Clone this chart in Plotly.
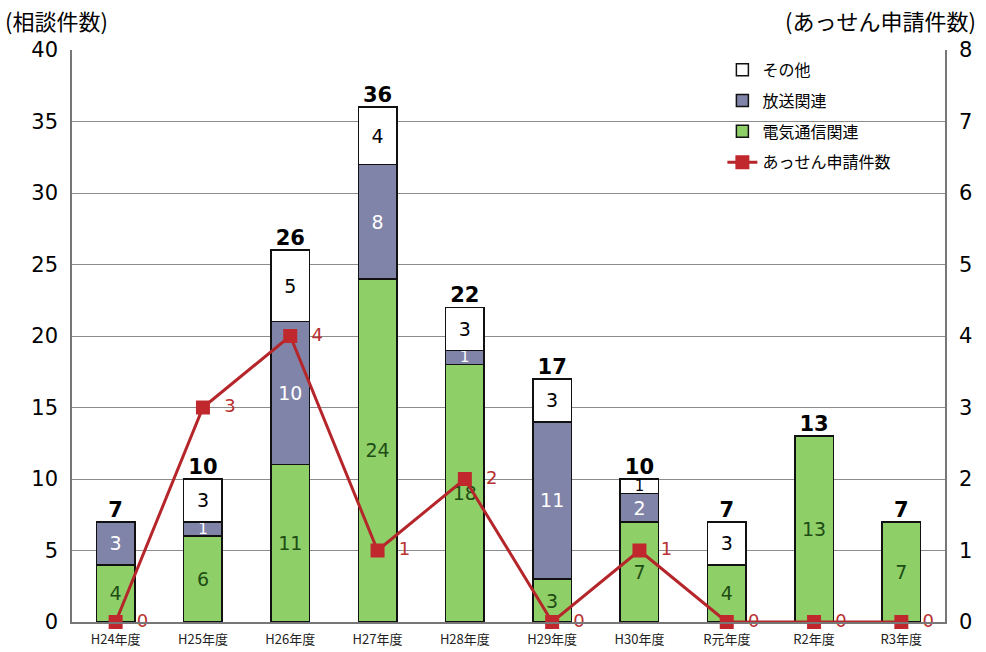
import plotly.graph_objects as go

categories = ["H24年度", "H25年度", "H26年度", "H27年度", "H28年度",
              "H29年度", "H30年度", "R元年度", "R2年度", "R3年度"]
telecom = [4, 6, 11, 24, 18, 3, 7, 4, 13, 7]
broadcast = [3, 1, 10, 8, 1, 11, 2, 0, 0, 0]
other = [0, 3, 5, 4, 3, 3, 1, 3, 0, 0]
totals = [7, 10, 26, 36, 22, 17, 10, 7, 13, 7]
mediation = [0, 3, 4, 1, 2, 0, 1, 0, 0, 0]

FONT = "Noto Sans CJK JP, Liberation Sans, sans-serif"
NUM = "DejaVu Sans, sans-serif"

def lab(vals):
    return [str(v) if v else "" for v in vals]

def sizes(vals):
    return [19 if v >= 2 else 15 for v in vals]

fig = go.Figure()
fig.add_trace(go.Bar(x=categories, y=telecom, name="電気通信関連", legendgroup="c",
                     marker=dict(color="#8FCF68", line=dict(color="#111111", width=1.5)),
                     text=lab(telecom), textposition="inside", insidetextanchor="middle",
                     textangle=0, cliponaxis=False, constraintext="none",
                     textfont=dict(color="#1E4D14", size=sizes(telecom), family=NUM), legendrank=3))
fig.add_trace(go.Bar(x=categories, y=broadcast, name="放送関連", legendgroup="b",
                     marker=dict(color="#8084A8", line=dict(color="#111111", width=1.5)),
                     text=lab(broadcast), textposition="inside", insidetextanchor="middle",
                     textangle=0, cliponaxis=False, constraintext="none",
                     textfont=dict(color="white", size=sizes(broadcast), family=NUM), legendrank=2))
fig.add_trace(go.Bar(x=categories, y=other, name="その他", legendgroup="a",
                     marker=dict(color="white", line=dict(color="#111111", width=1.5)),
                     text=lab(other), textposition="inside", insidetextanchor="middle",
                     textangle=0, cliponaxis=False, constraintext="none",
                     textfont=dict(color="black", size=sizes(other), family=NUM), legendrank=1))
fig.add_trace(go.Scatter(x=categories, y=totals, mode="text", text=[str(t) for t in totals],
                         textposition="top center", showlegend=False, hoverinfo="skip",
                         cliponaxis=False,
                         textfont=dict(color="black", size=21, family=NUM, weight="bold")))
fig.add_trace(go.Scatter(x=categories, y=mediation, name="あっせん申請件数", yaxis="y2",
                         legendgroup="d", cliponaxis=False,
                         mode="lines+markers+text", text=[str(v) for v in mediation],
                         texttemplate="  %{text}",
                         textposition="middle right",
                         textfont=dict(color="#B8302F", size=18, family=NUM),
                         line=dict(color="#B5262B", width=3),
                         marker=dict(symbol="square", size=14, color="#C0282D"),
                         legendrank=4))

fig.update_layout(
    width=986, height=652,
    barmode="stack", bargap=0.56,
    paper_bgcolor="white", plot_bgcolor="white",
    margin=dict(l=72, r=41, t=50, b=30, autoexpand=False),
    font=dict(family=FONT, color="black"),
    showlegend=True,
    legend=dict(x=0.745, y=0.995, xanchor="left", yanchor="top", traceorder="grouped",
                bgcolor="rgba(0,0,0,0)", font=dict(size=16, family=FONT),
                tracegroupgap=7, itemwidth=30),
    xaxis=dict(range=[-0.5, len(categories) - 0.5], showline=True, linecolor="#777777",
               linewidth=1.5, ticks="", automargin=False, ticklabelstandoff=5,
               tickfont=dict(size=13, family=FONT, color="#222222")),
    yaxis=dict(range=[0, 40], dtick=5, showgrid=True, gridcolor="#8C8C8C", gridwidth=1.2,
               showline=True, linecolor="#777777", linewidth=1.5, zeroline=False, automargin=False,
               tickfont=dict(size=21, family=NUM), ticklabelstandoff=8),
    yaxis2=dict(range=[0, 8], dtick=1, overlaying="y", side="right", showgrid=False,
                showline=True, linecolor="#777777", linewidth=1.5, zeroline=False, automargin=False,
                tickfont=dict(size=21, family=NUM), ticklabelstandoff=8),
    annotations=[
        dict(text="(相談件数)", xref="paper", yref="paper", x=-0.079, y=1.0524,
             xanchor="left", yanchor="middle", showarrow=False, font=dict(size=22)),
        dict(text="(あっせん申請件数)", xref="paper", yref="paper", x=1.038, y=1.0524,
             xanchor="right", yanchor="middle", showarrow=False, font=dict(size=22)),
    ],
)

fig.write_html("out.html", config={"displayModeBar": False},
               post_script="document.body.style.margin='0px';document.body.style.padding='0px';")
